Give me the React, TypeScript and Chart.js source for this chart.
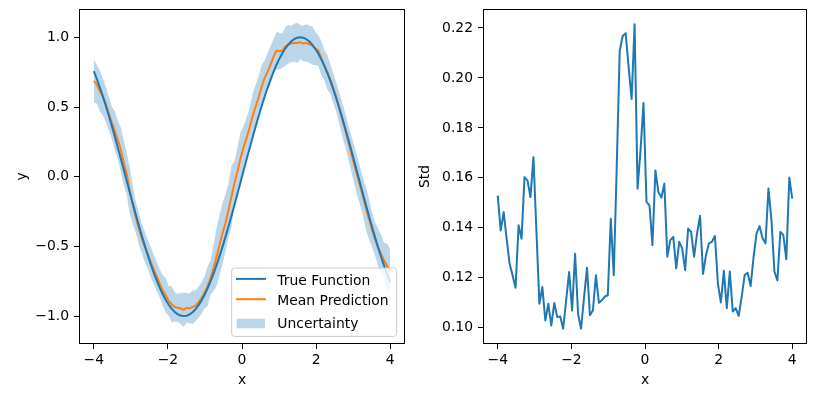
import React, { useEffect, useRef } from 'react';
import { Chart, registerables } from 'chart.js';

Chart.register(...registerables);

// ---------- data ----------
const xValues = [
  -4.0, -3.9192, -3.8384, -3.7576, -3.6768, -3.596, -3.5152, -3.4343, -3.3535, -3.2727,
  -3.1919, -3.1111, -3.0303, -2.9495, -2.8687, -2.7879, -2.7071, -2.6263, -2.5455, -2.4646,
  -2.3838, -2.303, -2.2222, -2.1414, -2.0606, -1.9798, -1.899, -1.8182, -1.7374, -1.6566,
  -1.5758, -1.4949, -1.4141, -1.3333, -1.2525, -1.1717, -1.0909, -1.0101, -0.9293, -0.8485,
  -0.7677, -0.6869, -0.6061, -0.5253, -0.4444, -0.3636, -0.2828, -0.202, -0.1212, -0.0404,
  0.0404, 0.1212, 0.202, 0.2828, 0.3636, 0.4444, 0.5253, 0.6061, 0.6869, 0.7677,
  0.8485, 0.9293, 1.0101, 1.0909, 1.1717, 1.2525, 1.3333, 1.4141, 1.4949, 1.5758,
  1.6566, 1.7374, 1.8182, 1.899, 1.9798, 2.0606, 2.1414, 2.2222, 2.303, 2.3838,
  2.4646, 2.5455, 2.6263, 2.7071, 2.7879, 2.8687, 2.9495, 3.0303, 3.1111, 3.1919,
  3.2727, 3.3535, 3.4343, 3.5152, 3.596, 3.6768, 3.7576, 3.8384, 3.9192, 4.0,
];

const trueFunction = [
  0.7568, 0.7017, 0.6417, 0.5778, 0.5101, 0.4389, 0.365, 0.2886, 0.2103, 0.1307,
  0.0503, -0.0305, -0.1111, -0.1909, -0.2695, -0.3464, -0.421, -0.4928, -0.5613, -0.6266,
  -0.6873, -0.7438, -0.7953, -0.8416, -0.8822, -0.9174, -0.9466, -0.9696, -0.9863, -0.9963,
  -1.0, -0.9972, -0.9878, -0.9719, -0.9496, -0.9212, -0.8868, -0.8468, -0.8013, -0.7503,
  -0.6949, -0.6343, -0.5697, -0.5014, -0.43, -0.3557, -0.2791, -0.2007, -0.1209, -0.0404,
  0.0404, 0.1209, 0.2007, 0.2791, 0.3557, 0.43, 0.5014, 0.5697, 0.6343, 0.6949,
  0.7503, 0.8013, 0.8468, 0.8868, 0.9212, 0.9496, 0.9719, 0.9878, 0.9972, 1.0,
  0.9963, 0.9863, 0.9696, 0.9466, 0.9174, 0.8822, 0.8416, 0.7953, 0.7438, 0.6873,
  0.6266, 0.5613, 0.4928, 0.421, 0.3464, 0.2695, 0.1909, 0.1111, 0.0305, -0.0503,
  -0.1307, -0.2103, -0.2886, -0.365, -0.4389, -0.5101, -0.5778, -0.6417, -0.7017, -0.7568,
];

const meanPrediction = [
  0.687, 0.662, 0.615, 0.575, 0.52, 0.455, 0.39, 0.33, 0.265, 0.195,
  0.1, 0.02, -0.1, -0.2, -0.29, -0.37, -0.44, -0.5, -0.555, -0.61,
  -0.665, -0.715, -0.765, -0.815, -0.85, -0.89, -0.915, -0.935, -0.94, -0.945,
  -0.955, -0.94, -0.945, -0.935, -0.925, -0.9, -0.87, -0.83, -0.785, -0.725,
  -0.655, -0.575, -0.49, -0.405, -0.33, -0.24, -0.14, -0.045, 0.04, 0.13,
  0.21, 0.275, 0.35, 0.43, 0.5, 0.565, 0.64, 0.705, 0.75, 0.8,
  0.86, 0.905, 0.9, 0.905, 0.935, 0.95, 0.955, 0.96, 0.96, 0.965,
  0.955, 0.96, 0.95, 0.94, 0.92, 0.905, 0.85, 0.8, 0.75, 0.7,
  0.635, 0.57, 0.49, 0.41, 0.335, 0.25, 0.165, 0.085, 0.005, -0.07,
  -0.15, -0.235, -0.31, -0.385, -0.45, -0.51, -0.555, -0.605, -0.64, -0.675,
];

const stdValues = [
  0.1529, 0.1389, 0.1463, 0.1356, 0.1256, 0.1209, 0.116, 0.141, 0.1356, 0.1603,
  0.159, 0.1523, 0.1683, 0.139, 0.1096, 0.1163, 0.1029, 0.1096, 0.1009, 0.1099,
  0.1043, 0.1045, 0.0996, 0.111, 0.1223, 0.1069, 0.1296, 0.1056, 0.0996, 0.112,
  0.124, 0.105, 0.107, 0.121, 0.11, 0.111, 0.1125, 0.113, 0.1436, 0.121,
  0.1645, 0.2108, 0.2168, 0.2179, 0.2042, 0.1916, 0.2215, 0.1557, 0.171, 0.19,
  0.1504, 0.149, 0.1331, 0.163, 0.1543, 0.1521, 0.1577, 0.1284, 0.1351, 0.1364,
  0.1238, 0.1344, 0.1318, 0.1231, 0.1397, 0.1384, 0.1284, 0.1378, 0.1448, 0.1215,
  0.1291, 0.1338, 0.1344, 0.1367, 0.1178, 0.1101, 0.1228, 0.1078, 0.1225, 0.1065,
  0.1078, 0.1048, 0.1125, 0.1211, 0.122, 0.1167, 0.1284, 0.1378, 0.1407, 0.1358,
  0.1338, 0.1557, 0.1431, 0.1225, 0.1189, 0.1384, 0.1371, 0.1274, 0.1601, 0.1517,
];

const xTicks = [-4, -2, 0, 2, 4];
const leftYTicks = [-1.0, -0.5, 0.0, 0.5, 1.0];
const rightYTicks = [0.1, 0.12, 0.14, 0.16, 0.18, 0.2, 0.22];
const seriesLabels = ['True Function', 'Mean Prediction', 'Uncertainty'];

// ---------- style ----------
const W = 815;
const H = 394;
const BLUE = '#1f77b4';
const ORANGE = '#ff7f0e';
const BAND = 'rgba(31,119,180,0.3)';
const FAMILY = "'DejaVu Sans', sans-serif";
const FS = 13.9;
const font = { family: FAMILY, size: FS };

const fmt = (v: number, d: number) => Number(v).toFixed(d).replace('-', '\u2212');

function xScale() {
  return {
    type: 'linear',
    min: -4.4,
    max: 4.4,
    afterBuildTicks: (s: any) => {
      s.ticks = xTicks.map((v) => ({ value: v }));
    },
    ticks: {
      callback: (v: any) => fmt(v, 0),
      font,
      color: '#000',
      padding: 3,
      maxRotation: 0,
      autoSkip: false,
    },
    grid: { drawOnChartArea: false, drawTicks: true, tickLength: 5, tickColor: '#000', tickWidth: 1 },
    border: { display: false },
    title: { display: true, text: 'x', font, color: '#000', padding: { top: 0, bottom: 5.7 } },
    afterFit: (s: any) => {
      s.height = 50;
      s.paddingLeft = 0;
      s.paddingRight = 0;
      s.paddingTop = 0;
      s.paddingBottom = 0;
    },
  };
}

function yScale(min: number, max: number, ticksArr: number[], dec: number, title: string, width: number, titlePad: number) {
  return {
    type: 'linear',
    min,
    max,
    afterBuildTicks: (s: any) => {
      s.ticks = ticksArr.map((v) => ({ value: v }));
    },
    ticks: {
      callback: (v: any) => fmt(v, dec),
      font,
      color: '#000',
      padding: 5,
      autoSkip: false,
    },
    grid: { drawOnChartArea: false, drawTicks: true, tickLength: 5, tickColor: '#000', tickWidth: 1 },
    border: { display: false },
    title: { display: true, text: title, font, color: '#000', padding: { top: titlePad, bottom: 0 } },
    afterFit: (s: any) => {
      s.width = width;
      s.paddingLeft = 0;
      s.paddingRight = 0;
      s.paddingTop = 0;
      s.paddingBottom = 0;
    },
  };
}

const framePlugin = {
  id: 'frame',
  afterDraw(chart: any) {
    const { ctx, chartArea } = chart;
    ctx.save();
    ctx.strokeStyle = '#000';
    ctx.lineWidth = 1;
    const l = Math.round(chartArea.left) + 0.5;
    const t = Math.round(chartArea.top) + 0.5;
    const r = Math.round(chartArea.right) - 0.5;
    const b = Math.round(chartArea.bottom) - 0.5;
    ctx.strokeRect(l, t, r - l, b - t);
    ctx.restore();
  },
};

const legendPlugin = {
  id: 'boxLegend',
  afterDraw(chart: any) {
    const { ctx, chartArea } = chart;
    const w = 165;
    const h = 68.4;
    const right = chartArea.right - 8.3;
    const bottom = chartArea.bottom - 7.6;
    const left = right - w;
    const top = bottom - h;
    const r = 3;
    ctx.save();
    ctx.beginPath();
    ctx.moveTo(left + r, top);
    ctx.lineTo(right - r, top);
    ctx.quadraticCurveTo(right, top, right, top + r);
    ctx.lineTo(right, bottom - r);
    ctx.quadraticCurveTo(right, bottom, right - r, bottom);
    ctx.lineTo(left + r, bottom);
    ctx.quadraticCurveTo(left, bottom, left, bottom - r);
    ctx.lineTo(left, top + r);
    ctx.quadraticCurveTo(left, top, left + r, top);
    ctx.closePath();
    ctx.fillStyle = 'rgba(255,255,255,0.8)';
    ctx.fill();
    ctx.strokeStyle = '#cccccc';
    ctx.lineWidth = 1;
    ctx.stroke();

    ctx.lineWidth = 2;
    ctx.lineCap = 'butt';
    ctx.strokeStyle = BLUE;
    ctx.beginPath();
    ctx.moveTo(left + 4.3, top + 10.9);
    ctx.lineTo(left + 34.3, top + 10.9);
    ctx.stroke();
    ctx.strokeStyle = ORANGE;
    ctx.beginPath();
    ctx.moveTo(left + 4.3, top + 31.2);
    ctx.lineTo(left + 34.3, top + 31.2);
    ctx.stroke();
    ctx.fillStyle = BAND;
    ctx.fillRect(left + 5, top + 50.7, 28.3, 9.6);

    ctx.fillStyle = '#000';
    ctx.font = `${FS}px ${FAMILY}`;
    ctx.textAlign = 'left';
    ctx.textBaseline = 'alphabetic';
    ctx.fillText(seriesLabels[0], left + 45.6, top + 16.6);
    ctx.fillText(seriesLabels[1], left + 45.6, top + 37.2);
    ctx.fillText(seriesLabels[2], left + 45.6, top + 60);
    ctx.restore();
  },
};

const pts = (ys: number[]) => xValues.map((x, i) => ({ x, y: ys[i] }));

export default function App() {
  const leftRef = useRef<HTMLCanvasElement | null>(null);
  const rightRef = useRef<HTMLCanvasElement | null>(null);

  useEffect(() => {
    const upper = meanPrediction.map((m, i) => m + stdValues[i]);
    const lower = meanPrediction.map((m, i) => m - stdValues[i]);

    const left = new Chart(leftRef.current as HTMLCanvasElement, {
      type: 'line',
      data: {
        datasets: [
          { label: seriesLabels[0], data: pts(trueFunction), borderColor: BLUE, borderWidth: 2, pointRadius: 0, fill: false, tension: 0, borderJoinStyle: 'round' },
          { label: seriesLabels[1], data: pts(meanPrediction), borderColor: ORANGE, borderWidth: 2, pointRadius: 0, fill: false, tension: 0, borderJoinStyle: 'round' },
          { label: 'upper', data: pts(upper), borderWidth: 0, borderColor: 'rgba(0,0,0,0)', pointRadius: 0, fill: false, tension: 0 },
          { label: seriesLabels[2], data: pts(lower), borderWidth: 0, borderColor: 'rgba(0,0,0,0)', backgroundColor: BAND, pointRadius: 0, fill: '-1', tension: 0 },
        ],
      } as any,
      options: {
        animation: false,
        responsive: false,
        devicePixelRatio: 1,
        events: [],
        layout: { padding: { left: 0, top: 9, right: W - 405, bottom: 0 } },
        plugins: { legend: { display: false }, tooltip: { enabled: false } },
        scales: {
          x: xScale(),
          y: yScale(-1.2, 1.203, leftYTicks, 1, 'y', 79, 13.7),
        } as any,
      },
      plugins: [framePlugin, legendPlugin],
    });

    const right = new Chart(rightRef.current as HTMLCanvasElement, {
      type: 'line',
      data: {
        datasets: [
          { label: 'Std', data: pts(stdValues), borderColor: BLUE, borderWidth: 2, pointRadius: 0, fill: false, tension: 0, borderJoinStyle: 'round' },
        ],
      } as any,
      options: {
        animation: false,
        responsive: false,
        devicePixelRatio: 1,
        events: [],
        layout: { padding: { left: 483 - 70, top: 9, right: 8, bottom: 0 } },
        plugins: { legend: { display: false }, tooltip: { enabled: false } },
        scales: {
          x: xScale(),
          y: yScale(0.0935, 0.2276, rightYTicks, 2, 'Std', 70, 4),
        } as any,
      },
      plugins: [framePlugin],
    });

    return () => {
      left.destroy();
      right.destroy();
    };
  }, []);

  const canvasStyle: React.CSSProperties = { position: 'absolute', left: 0, top: 0, width: W, height: H, display: 'block' };
  return (
    <div style={{ position: 'fixed', left: 0, top: 0, width: W, height: H, background: '#fff' }}>
      <canvas ref={leftRef} width={W} height={H} style={canvasStyle} />
      <canvas ref={rightRef} width={W} height={H} style={canvasStyle} />
    </div>
  );
}
